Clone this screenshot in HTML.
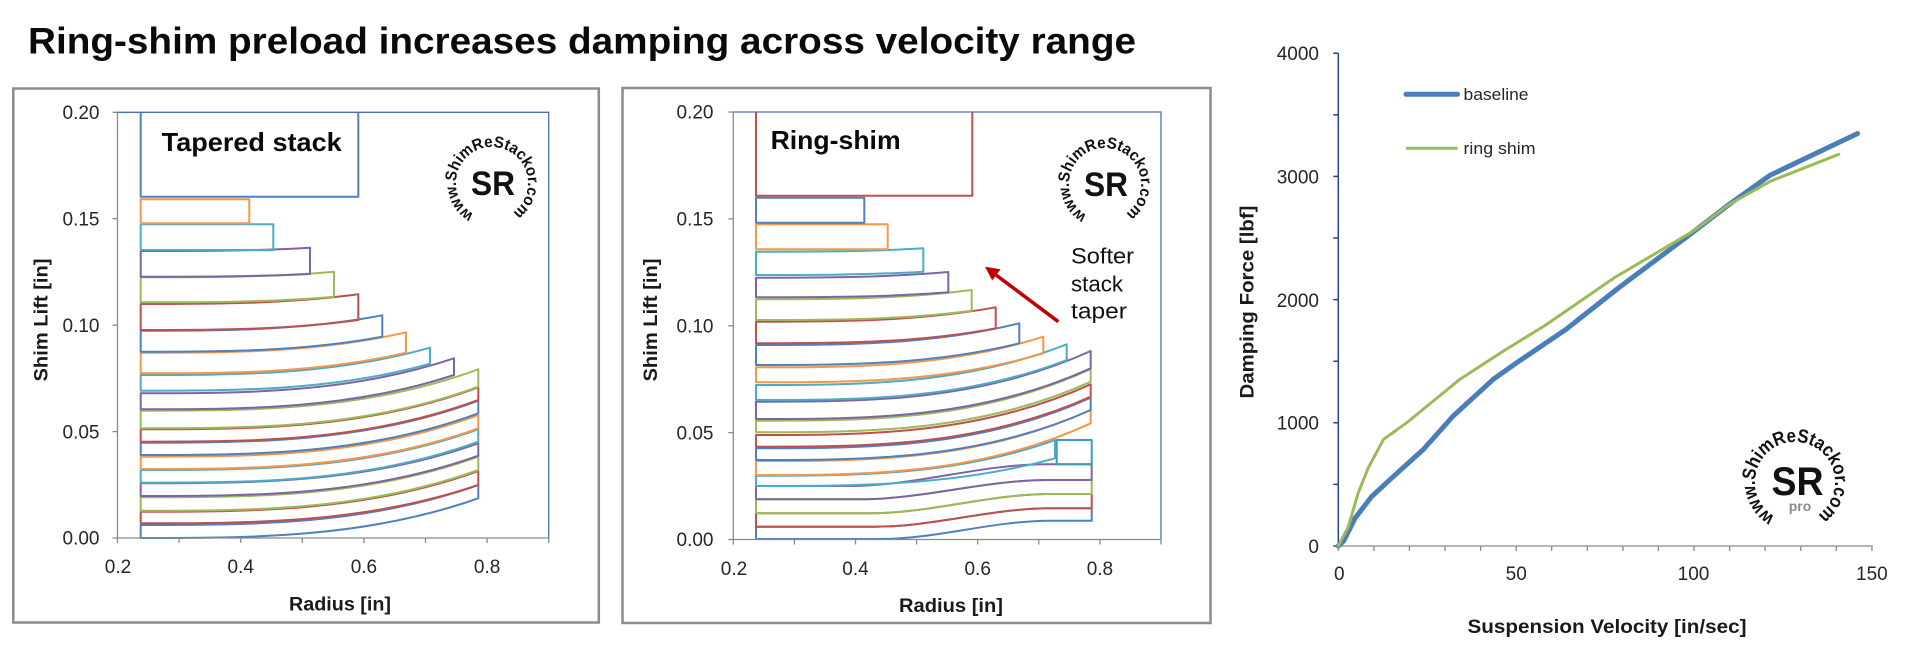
<!DOCTYPE html>
<html>
<head>
<meta charset="utf-8">
<style>
html,body{margin:0;padding:0;background:#fff;}
svg{display:block;}
text{font-family:"Liberation Sans",Arial,sans-serif;}
</style>
</head>
<body>
<svg width="1920" height="654" viewBox="0 0 1920 654" xmlns="http://www.w3.org/2000/svg">
<rect x="0" y="0" width="1920" height="654" fill="#fff"/>

<!-- Title -->
<text x="28" y="53.3" font-size="37" font-weight="bold" fill="#0a0a0a" textLength="1108" lengthAdjust="spacingAndGlyphs">Ring-shim preload increases damping across velocity range</text>

<!-- Frames -->
<rect x="13.3" y="88.5" width="585.5" height="534" fill="none" stroke="#8c8c8c" stroke-width="2.5"/>
<rect x="622.5" y="88" width="588" height="535" fill="none" stroke="#8c8c8c" stroke-width="2.5"/>

<!-- ================= LEFT PANEL ================= -->
<g fill="none" stroke-width="2" stroke-linejoin="round">
<path stroke="#4F81BD" d="M140.7,538 C253.2,538 365.8,538 478.3,498.3 L478.3,485 C365.8,525 253.2,525 140.7,525 Z"/>
<path stroke="#C0504D" d="M140.7,523.3 C253.2,523.3 365.8,523.3 478.3,485 L478.3,471 C365.8,511.7 253.2,511.7 140.7,511.7 Z"/>
<path stroke="#9BBB59" d="M140.7,510.7 C253.2,510.7 365.8,510.7 478.3,470 L478.3,456.7 C365.8,497.3 253.2,497.3 140.7,497.3 Z"/>
<path stroke="#8064A2" d="M140.7,496 C253.2,496 365.8,496 478.3,455.7 L478.3,443.3 C365.8,483.3 253.2,483.3 140.7,483.3 Z"/>
<path stroke="#4BACC6" d="M140.7,482.7 C253.2,482.7 365.8,482.7 478.3,441.7 L478.3,429.3 C365.8,470 253.2,470 140.7,470 Z"/>
<path stroke="#F79646" d="M140.7,469 C253.2,469 365.8,469 478.3,428.3 L478.3,415 C365.8,456.7 253.2,456.7 140.7,456.7 Z"/>
<path stroke="#4F81BD" d="M140.7,455 C253.2,455 365.8,455 478.3,413.3 L478.3,400.7 C365.8,442.7 253.2,442.7 140.7,442.7 Z"/>
<path stroke="#C0504D" d="M140.7,441.7 C253.2,441.7 365.8,441.7 478.3,400 L478.3,387.3 C365.8,429.3 253.2,429.3 140.7,429.3 Z"/>
<path stroke="#9BBB59" d="M140.7,428.3 C253.2,428.3 365.8,428.3 478.3,386.7 L478.3,369.3 C365.8,410.7 253.2,410.7 140.7,410.7 Z"/>
<path stroke="#8064A2" d="M140.7,409.3 C245.1,409.3 349.6,409.3 454,375 L454,358.3 C349.6,393.3 245.1,393.3 140.7,393.3 Z"/>
<path stroke="#4BACC6" d="M140.7,390.7 C237.1,390.7 333.6,390.7 430,363.7 L430,347.7 C333.6,375 237.1,375 140.7,375 Z"/>
<path stroke="#F79646" d="M140.7,373.3 C229.1,373.3 317.6,373.3 406,352.7 L406,332.3 C317.6,352.7 229.1,352.7 140.7,352.7 Z"/>
<path stroke="#4F81BD" d="M140.7,351.7 C221.2,351.7 301.8,351.7 382.3,336.7 L382.3,315.3 C301.8,330.7 221.2,330.7 140.7,330.7 Z"/>
<path stroke="#C0504D" d="M140.7,330 C213.2,330 285.8,330 358.3,320 L358.3,294.3 C285.8,304 213.2,304 140.7,304 Z"/>
<path stroke="#9BBB59" d="M140.7,302.3 C205.1,302.3 269.6,302.3 334,296.7 L334,271.7 C269.6,277.3 205.1,277.3 140.7,277.3 Z"/>
<path stroke="#8064A2" d="M140.7,276.7 C197.1,276.7 253.6,276.7 310,274 L310,247.7 C253.6,251 197.1,251 140.7,251 Z"/>
<path stroke="#4BACC6" d="M140.7,250 L273.3,250 L273.3,224.3 L140.7,224.3 Z"/>
<path stroke="#F79646" d="M140.7,223.3 L249.3,223.3 L249.3,199.3 L140.7,199.3 Z"/>
<path stroke="#4F81BD" d="M140.7,112.3 L140.7,196.7 L358.3,196.7 L358.3,112.3"/>
</g>
<!-- left plot border & axes -->
<path d="M117.5,112.3 L548.7,112.3 L548.7,538" fill="none" stroke="#4A72B0" stroke-width="1.3"/>
<g stroke="#8a8a8a" stroke-width="1.3" fill="none">
<path d="M117.5,112.3 L117.5,538 L548.7,538"/>
<path d="M112.5,112.3 H117.5 M112.5,218.7 H117.5 M112.5,325.2 H117.5 M112.5,431.6 H117.5 M112.5,538 H117.5"/>
<path d="M117.5,538 V543 M179.1,538 V543 M240.7,538 V543 M302.3,538 V543 M363.9,538 V543 M425.5,538 V543 M487.1,538 V543 M548.7,538 V543"/>
</g>
<g font-size="19" fill="#262626" text-anchor="end">
<text x="99.5" y="119">0.20</text>
<text x="99.5" y="225.4">0.15</text>
<text x="99.5" y="331.9">0.10</text>
<text x="99.5" y="438.3">0.05</text>
<text x="99.5" y="544.7">0.00</text>
</g>
<g font-size="19" fill="#262626" text-anchor="middle">
<text x="118" y="573">0.2</text>
<text x="240.7" y="573">0.4</text>
<text x="363.9" y="573">0.6</text>
<text x="487.1" y="573">0.8</text>
</g>
<text x="340" y="610.5" font-size="19" font-weight="bold" fill="#1a1a1a" text-anchor="middle" textLength="102" lengthAdjust="spacingAndGlyphs">Radius [in]</text>
<text transform="translate(47.5,320) rotate(-90)" x="0" y="0" font-size="19" font-weight="bold" fill="#1a1a1a" text-anchor="middle" textLength="123" lengthAdjust="spacingAndGlyphs">Shim Lift [in]</text>
<text x="161.7" y="151" font-size="26" font-weight="bold" fill="#0a0a0a" textLength="180" lengthAdjust="spacingAndGlyphs">Tapered stack</text>

<!-- left logo -->
<g>
<path id="arcL" d="M474,214.2 A36 36 0 1 1 510,214.2" fill="none"/>
<text font-family="'Liberation Serif',serif" font-weight="bold" font-size="16" fill="#111"><textPath href="#arcL" textLength="185" lengthAdjust="spacingAndGlyphs">www.ShimReStackor.com</textPath></text>
<text x="493" y="195" font-size="34" font-weight="bold" fill="#111" text-anchor="middle" textLength="44" lengthAdjust="spacingAndGlyphs">SR</text>
</g>

<!-- ================= MIDDLE PANEL ================= -->
<g fill="none" stroke-width="2" stroke-linejoin="round">
<path stroke="#4F81BD" d="M756,539 L880,539 C936.7,539 993.3,520.7 1050,520.7 L1091.7,520.7 L1091.7,508.3 L1050,508.3 C991.7,508.3 933.3,526.7 875,526.7 L756,526.7 Z"/>
<path stroke="#C0504D" d="M756,526.7 L875,526.7 C933.3,526.7 991.7,508.3 1050,508.3 L1091.7,508.3 L1091.7,494 L1050,494 C990,494 930,513.3 870,513.3 L756,513.3 Z"/>
<path stroke="#9BBB59" d="M756,513.3 L870,513.3 C930,513.3 990,494 1050,494 L1091.7,494 L1091.7,480 L1048,480 C985.3,480 922.7,499.3 860,499.3 L756,499.3 Z"/>
<path stroke="#8064A2" d="M756,499.3 L860,499.3 C922.7,499.3 985.3,480 1048,480 L1091.7,480 L1091.7,464.3 L1045,464.3 C980,464.3 915,486 850,486 L756,486 Z"/>
<path stroke="#3E9DB6" d="M1056.7,440 L1091.7,440 L1091.7,464.3 L1056.7,464.3 Z"/>
<path stroke="#4BACC6" d="M756,486 C855.7,486 955.3,486 1055,458.3 L1055,440 C955.3,475.7 855.7,475.7 756,475.7 Z"/>
<path stroke="#F79646" d="M756,475 C867.6,475 979.1,475 1090.7,423.3 L1090.7,410 C979.1,461 867.6,461 756,461 Z"/>
<path stroke="#4F81BD" d="M756,460 C867.6,460 979.1,460 1090.7,410 L1090.7,397.7 C979.1,448.3 867.6,448.3 756,448.3 Z"/>
<path stroke="#C0504D" d="M756,446.7 C867.6,446.7 979.1,446.7 1090.7,396.7 L1090.7,384.3 C979.1,435 867.6,435 756,435 Z"/>
<path stroke="#9BBB59" d="M756,432.3 C867.6,432.3 979.1,432.3 1090.7,381.7 L1090.7,369 C979.1,420.7 867.6,420.7 756,420.7 Z"/>
<path stroke="#8064A2" d="M756,419 C867.6,419 979.1,419 1090.7,368.3 L1090.7,351 C979.1,401.7 867.6,401.7 756,401.7 Z"/>
<path stroke="#4BACC6" d="M756,400 C859.6,400 963.1,400 1066.7,360 L1066.7,344.3 C963.1,385 859.6,385 756,385 Z"/>
<path stroke="#F79646" d="M756,382.3 C851.8,382.3 947.5,382.3 1043.3,353.3 L1043.3,336.7 C947.5,367.3 851.8,367.3 756,367.3 Z"/>
<path stroke="#4F81BD" d="M756,365 C843.8,365 931.5,365 1019.3,343.3 L1019.3,323.3 C931.5,345 843.8,345 756,345 Z"/>
<path stroke="#C0504D" d="M756,343.3 C835.9,343.3 915.8,343.3 995.7,328.3 L995.7,307.3 C915.8,321.7 835.9,321.7 756,321.7 Z"/>
<path stroke="#9BBB59" d="M756,320 C827.9,320 899.8,320 971.7,310.7 L971.7,290 C899.8,299.3 827.9,299.3 756,299.3 Z"/>
<path stroke="#8064A2" d="M756,297.3 C820.1,297.3 884.2,297.3 948.3,292.3 L948.3,272 C884.2,277.7 820.1,277.7 756,277.7 Z"/>
<path stroke="#4BACC6" d="M756,275 C811.8,275 867.5,275 923.3,271.7 L923.3,248.3 C867.5,251.7 811.8,251.7 756,251.7 Z"/>
<path stroke="#F79646" d="M756,249.3 L887.7,249.3 L887.7,224.3 L756,224.3 Z"/>
<path stroke="#4F81BD" d="M756,222.7 L864.3,222.7 L864.3,197.7 L756,197.7 Z"/>
<path stroke="#C0504D" d="M756,112 L756,195.7 L972.3,195.7 L972.3,112"/>
</g>
<path d="M733.3,112 L1161,112 L1161,539.5" fill="none" stroke="#4A72B0" stroke-width="1.3"/>
<g stroke="#8a8a8a" stroke-width="1.3" fill="none">
<path d="M733.3,112 L733.3,539.5 L1161,539.5"/>
<path d="M728.3,112 H733.3 M728.3,218.9 H733.3 M728.3,325.8 H733.3 M728.3,432.6 H733.3 M728.3,539.5 H733.3"/>
<path d="M733.3,539.5 V544.5 M794.4,539.5 V544.5 M855.5,539.5 V544.5 M916.6,539.5 V544.5 M977.7,539.5 V544.5 M1038.8,539.5 V544.5 M1099.9,539.5 V544.5 M1161,539.5 V544.5"/>
</g>
<g font-size="19" fill="#262626" text-anchor="end">
<text x="713.5" y="118.7">0.20</text>
<text x="713.5" y="225.6">0.15</text>
<text x="713.5" y="332.5">0.10</text>
<text x="713.5" y="439.3">0.05</text>
<text x="713.5" y="546.2">0.00</text>
</g>
<g font-size="19" fill="#262626" text-anchor="middle">
<text x="734" y="575">0.2</text>
<text x="855.5" y="575">0.4</text>
<text x="977.7" y="575">0.6</text>
<text x="1099.9" y="575">0.8</text>
</g>
<text x="951" y="612" font-size="19" font-weight="bold" fill="#1a1a1a" text-anchor="middle" textLength="104" lengthAdjust="spacingAndGlyphs">Radius [in]</text>
<text transform="translate(657,320) rotate(-90)" x="0" y="0" font-size="19" font-weight="bold" fill="#1a1a1a" text-anchor="middle" textLength="123" lengthAdjust="spacingAndGlyphs">Shim Lift [in]</text>
<text x="770.6" y="149" font-size="26" font-weight="bold" fill="#0a0a0a" textLength="130" lengthAdjust="spacingAndGlyphs">Ring-shim</text>

<!-- middle logo -->
<g>
<path id="arcM" d="M1087,215.2 A36 36 0 1 1 1123,215.2" fill="none"/>
<text font-family="'Liberation Serif',serif" font-weight="bold" font-size="16" fill="#111"><textPath href="#arcM" textLength="185" lengthAdjust="spacingAndGlyphs">www.ShimReStackor.com</textPath></text>
<text x="1106" y="196" font-size="34" font-weight="bold" fill="#111" text-anchor="middle" textLength="44" lengthAdjust="spacingAndGlyphs">SR</text>
</g>

<!-- annotation -->
<g font-size="22" fill="#111">
<text x="1071" y="263.3" textLength="63" lengthAdjust="spacingAndGlyphs">Softer</text>
<text x="1071" y="291.7" textLength="52" lengthAdjust="spacingAndGlyphs">stack</text>
<text x="1071" y="318.3" textLength="56" lengthAdjust="spacingAndGlyphs">taper</text>
</g>
<line x1="1058.3" y1="321.7" x2="994" y2="273.5" stroke="#C00000" stroke-width="3.5"/>
<polygon points="985,266.7 1000.6,269.2 992.2,280.4" fill="#C00000"/>

<!-- ================= RIGHT CHART ================= -->
<g stroke="#8a8a8a" stroke-width="1.3" fill="none">
<path d="M1338.3,546 H1872.8"/>
<path d="M1338.3,546 V551 M1373.9,546 V551 M1409.4,546 V551 M1445,546 V551 M1480.6,546 V551 M1516.2,546 V551 M1551.7,546 V551 M1587.3,546 V551 M1622.9,546 V551 M1658.4,546 V551 M1694,546 V551 M1729.6,546 V551 M1765.1,546 V551 M1800.7,546 V551 M1836.3,546 V551 M1871.9,546 V551"/>
</g>
<g stroke="#26457C" stroke-width="1.5" fill="none">
<path d="M1338.3,53.3 V546"/>
<path d="M1333.3,546 H1338.3 M1333.3,484.4 H1338.3 M1333.3,422.8 H1338.3 M1333.3,361.2 H1338.3 M1333.3,299.6 H1338.3 M1333.3,238 H1338.3 M1333.3,176.4 H1338.3 M1333.3,114.9 H1338.3 M1333.3,53.3 H1338.3"/>
</g>
<g font-size="19" fill="#262626" text-anchor="end">
<text x="1319" y="60.2">4000</text>
<text x="1319" y="183.3">3000</text>
<text x="1319" y="306.9">2000</text>
<text x="1319" y="429.7">1000</text>
<text x="1319" y="552.9">0</text>
</g>
<g font-size="19" fill="#262626" text-anchor="middle">
<text x="1339.3" y="580">0</text>
<text x="1516.2" y="580">50</text>
<text x="1693.5" y="580">100</text>
<text x="1871.9" y="580">150</text>
</g>
<text x="1607" y="633" font-size="19" font-weight="bold" fill="#1a1a1a" text-anchor="middle" textLength="279" lengthAdjust="spacingAndGlyphs">Suspension Velocity [in/sec]</text>
<text transform="translate(1253.5,302) rotate(-90)" x="0" y="0" font-size="19" font-weight="bold" fill="#1a1a1a" text-anchor="middle" textLength="193" lengthAdjust="spacingAndGlyphs">Damping Force [lbf]</text>

<!-- curves -->
<polyline fill="none" stroke="#4A7EBB" stroke-width="5" stroke-linejoin="round" stroke-linecap="round" points="1338.3,546 1343.6,541.1 1355,518.2 1371.7,496.5 1389.9,479.7 1423.3,449.5 1453.2,416 1493.4,379.2 1516.2,363.1 1565.6,329.7 1618.6,287.9 1688.3,235.7 1729.2,204.4 1770.1,175.2 1857.6,133.5"/>
<polyline fill="none" stroke="#9BBB59" stroke-width="3" stroke-linejoin="round" stroke-linecap="round" points="1338.3,546 1344.3,534.3 1348.3,526.7 1358.2,493 1368.2,467.9 1383.5,439.4 1406.6,422.8 1433.3,401 1460,379.2 1504.1,350.6 1545,325.5 1614.7,277.5 1694,230.7 1729.6,204.2 1770.1,181.4 1838.8,154.3"/>

<!-- legend -->
<line x1="1406" y1="94.3" x2="1457.5" y2="94.3" stroke="#4A7EBB" stroke-width="5" stroke-linecap="round"/>
<text x="1463.5" y="100" font-size="17" fill="#262626" textLength="65" lengthAdjust="spacingAndGlyphs">baseline</text>
<line x1="1406" y1="148.3" x2="1457.5" y2="148.3" stroke="#9BBB59" stroke-width="3"/>
<text x="1463.5" y="154" font-size="17" fill="#262626" textLength="72" lengthAdjust="spacingAndGlyphs">ring shim</text>

<!-- right logo -->
<g>
<path id="arcR" d="M1775,516.6 A40 40 0 1 1 1815,516.6" fill="none"/>
<text font-family="'Liberation Serif',serif" font-weight="bold" font-size="19" fill="#111"><textPath href="#arcR" textLength="206" lengthAdjust="spacingAndGlyphs">www.ShimReStackor.com</textPath></text>
<text x="1797.5" y="495" font-size="40" font-weight="bold" fill="#111" text-anchor="middle" textLength="52" lengthAdjust="spacingAndGlyphs">SR</text>
<text x="1800" y="511" font-size="14" font-weight="bold" fill="#8a8a8a" text-anchor="middle">pro</text>
</g>
</svg>
</body>
</html>
